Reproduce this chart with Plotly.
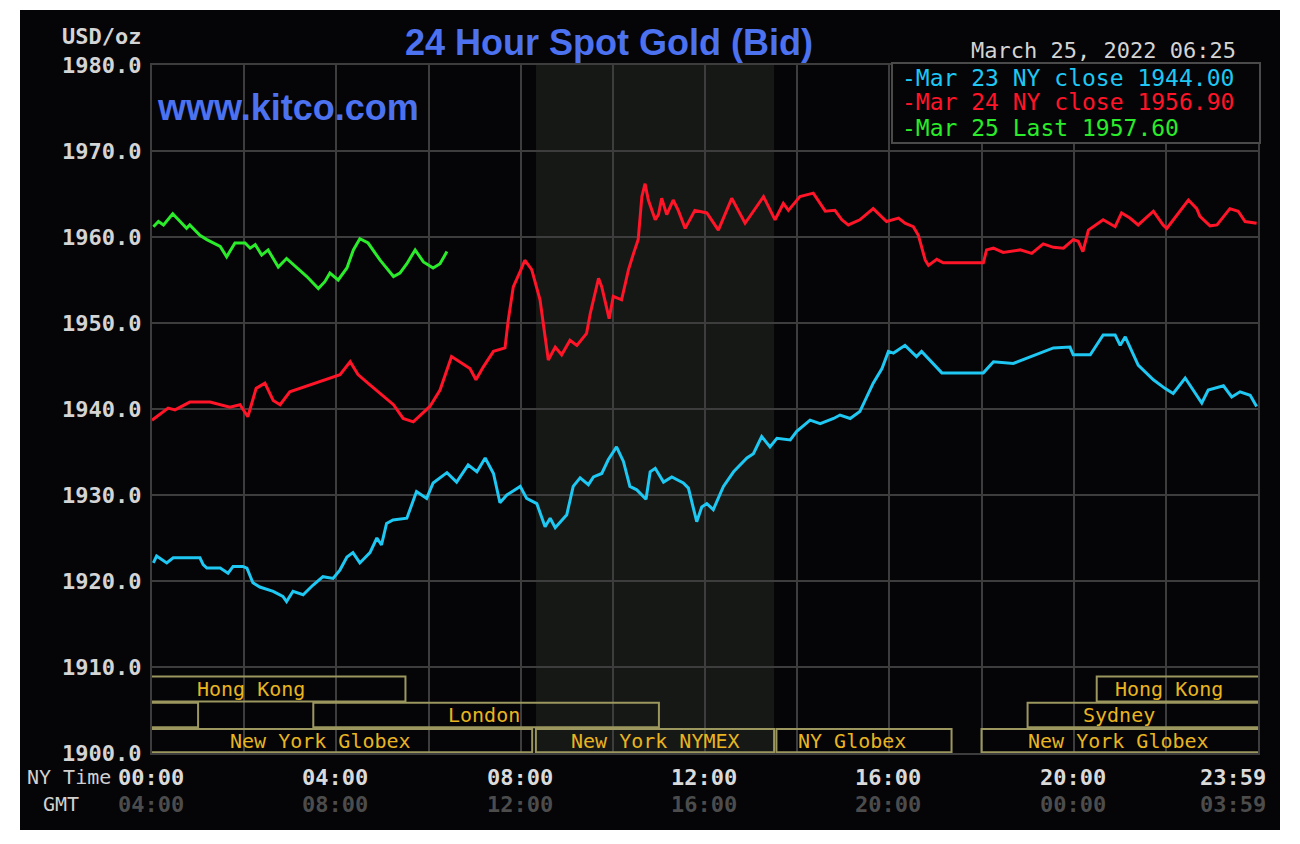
import plotly.graph_objects as go

# ------------------------------------------------------------------ data
# times in NY hours (0 = 00:00, 24 = 24:00), values in USD/oz
mar23_h = [0.03, 0.10, 0.32, 0.46, 1.04, 1.11, 1.19, 1.48, 1.65, 1.76, 1.97, 2.06, 2.19, 2.34,
           2.63, 2.84, 2.92, 3.06, 3.28, 3.49, 3.71, 3.93, 4.08, 4.23, 4.36, 4.51, 4.73, 4.88,
           4.98, 5.09, 5.23, 5.53, 5.74, 5.96, 6.10, 6.40, 6.61, 6.86, 7.05, 7.23, 7.41, 7.55,
           7.70, 7.99, 8.13, 8.35, 8.53, 8.64, 8.75, 9.00, 9.14, 9.29, 9.47, 9.58, 9.76, 9.90,
           10.08, 10.23, 10.37, 10.52, 10.72, 10.81, 10.92, 11.10, 11.28, 11.53, 11.64, 11.82,
           11.93, 12.04, 12.18, 12.40, 12.62, 12.91, 13.05, 13.23, 13.41, 13.56, 13.85, 13.99,
           14.28, 14.50, 14.79, 14.93, 15.15, 15.36, 15.65, 15.84, 15.98, 16.09, 16.34, 16.59,
           16.70, 16.92, 17.14, 18.04, 18.26, 18.69, 18.98, 19.27, 19.56, 19.92, 19.99, 20.36,
           20.64, 20.90, 21.01, 21.12, 21.40, 21.73, 21.98, 22.16, 22.42, 22.78, 22.92, 23.25,
           23.43, 23.61, 23.83, 23.97]
mar23_v = [1922.1, 1922.9, 1922.1, 1922.7, 1922.7, 1921.9, 1921.5, 1921.5, 1920.9, 1921.7,
           1921.7, 1921.5, 1919.8, 1919.3, 1918.8, 1918.2, 1917.6, 1918.8, 1918.4, 1919.5,
           1920.5, 1920.3, 1921.3, 1922.8, 1923.3, 1922.1, 1923.3, 1925.0, 1924.2, 1926.7,
           1927.1, 1927.3, 1930.4, 1929.6, 1931.4, 1932.6, 1931.5, 1933.5, 1932.7, 1934.3,
           1932.5, 1929.1, 1930.0, 1931.0, 1929.6, 1929.0, 1926.3, 1927.3, 1926.2, 1927.7,
           1931.0, 1932.0, 1931.2, 1932.1, 1932.5, 1934.1, 1935.6, 1933.9, 1931.0, 1930.6,
           1929.5, 1932.7, 1933.1, 1931.5, 1932.1, 1931.4, 1930.8, 1926.9, 1928.6, 1929.0,
           1928.3, 1931.0, 1932.7, 1934.3, 1934.8, 1936.8, 1935.6, 1936.6, 1936.4, 1937.4,
           1938.7, 1938.3, 1938.9, 1939.3, 1938.9, 1939.7, 1943.0, 1944.7, 1946.7, 1946.5,
           1947.4, 1946.1, 1946.7, 1945.5, 1944.2, 1944.2, 1945.5, 1945.3, 1945.9, 1946.5,
           1947.1, 1947.2, 1946.3, 1946.3, 1948.6, 1948.6, 1947.4, 1948.4, 1945.1, 1943.4,
           1942.4, 1941.8, 1943.6, 1940.7, 1942.2, 1942.7, 1941.4, 1942.0, 1941.6, 1940.3]

mar24_h = [0.00, 0.13, 0.35, 0.50, 0.82, 1.26, 1.69, 1.91, 2.08, 2.26, 2.45, 2.63, 2.78, 2.99,
           3.43, 3.75, 4.08, 4.30, 4.47, 4.73, 4.95, 5.24, 5.45, 5.67, 6.03, 6.25, 6.50, 6.68,
           6.90, 7.03, 7.19, 7.41, 7.66, 7.73, 7.84, 7.99, 8.09, 8.24, 8.42, 8.53, 8.60, 8.75,
           8.89, 9.07, 9.22, 9.43, 9.51, 9.69, 9.76, 9.92, 10.01, 10.19, 10.34, 10.45, 10.55,
           10.63, 10.70, 10.77, 10.92, 10.99, 11.06, 11.17, 11.31, 11.42, 11.57, 11.78, 12.04,
           12.29, 12.58, 12.87, 13.27, 13.52, 13.70, 13.81, 14.06, 14.35, 14.61, 14.82, 14.97,
           15.11, 15.36, 15.65, 15.94, 16.20, 16.34, 16.52, 16.63, 16.78, 16.85, 17.03, 17.17,
           18.04, 18.11, 18.26, 18.47, 18.84, 19.09, 19.34, 19.56, 19.78, 19.99, 20.10, 20.20,
           20.32, 20.64, 20.90, 21.04, 21.22, 21.40, 21.73, 21.94, 22.02, 22.49, 22.67, 22.74,
           22.96, 23.11, 23.39, 23.57, 23.72, 23.97]
mar24_v = [1938.7, 1939.2, 1940.1, 1939.9, 1940.8, 1940.8, 1940.2, 1940.5, 1939.1, 1942.4,
           1943.0, 1941.0, 1940.5, 1942.0, 1942.8, 1943.4, 1944.0, 1945.5, 1944.0, 1942.8,
           1941.8, 1940.5, 1938.9, 1938.5, 1940.3, 1942.2, 1946.1, 1945.5, 1944.7, 1943.4,
           1944.9, 1946.7, 1947.1, 1950.3, 1954.2, 1956.0, 1957.3, 1956.2, 1952.7, 1948.4,
           1945.7, 1947.2, 1946.3, 1948.0, 1947.4, 1948.8, 1951.1, 1955.2, 1954.2, 1950.5,
           1953.1, 1952.7, 1956.2, 1958.1, 1959.7, 1964.7, 1966.2, 1964.3, 1962.0, 1962.6,
           1964.5, 1962.6, 1964.3, 1963.1, 1961.0, 1963.1, 1962.8, 1960.8, 1964.5, 1961.6,
           1964.7, 1962.0, 1963.9, 1963.1, 1964.7, 1965.1, 1963.0, 1963.1, 1962.0, 1961.4,
           1962.0, 1963.3, 1961.8, 1962.2, 1961.6, 1961.2, 1960.2, 1957.3, 1956.7, 1957.4,
           1957.0, 1957.0, 1958.5, 1958.7, 1958.2, 1958.5, 1958.1, 1959.2, 1958.8, 1958.7,
           1959.7, 1959.5, 1958.3, 1960.8, 1962.0, 1961.2, 1962.8, 1962.2, 1961.4, 1963.0,
           1961.4, 1961.0, 1964.3, 1963.3, 1962.4, 1961.3, 1961.4, 1963.3, 1963.0, 1961.8,
           1961.6]

mar25_h = [0.03, 0.14, 0.25, 0.45, 0.61, 0.75, 0.82, 1.04, 1.19, 1.48, 1.62, 1.80, 2.02, 2.13,
           2.24, 2.38, 2.52, 2.74, 2.92, 3.14, 3.36, 3.61, 3.75, 3.86, 4.04, 4.23, 4.37, 4.51,
           4.69, 4.95, 5.24, 5.38, 5.53, 5.71, 5.89, 6.10, 6.25, 6.40]
mar25_v = [1961.2, 1961.8, 1961.4, 1962.7, 1961.8, 1961.0, 1961.4, 1960.2, 1959.7, 1958.9,
           1957.7, 1959.3, 1959.3, 1958.7, 1959.1, 1957.9, 1958.5, 1956.5, 1957.5, 1956.4,
           1955.4, 1954.0, 1954.8, 1955.8, 1955.0, 1956.4, 1958.5, 1959.8, 1959.3, 1957.3,
           1955.4, 1955.8, 1956.9, 1958.5, 1957.1, 1956.4, 1956.9, 1958.3]

series_names = ["Mar 23 NY close 1944.00", "Mar 24 NY close 1956.90", "Mar 25 Last 1957.60"]
series_colors = ["#1ec8f2", "#ff1428", "#2aec2a"]

y_ticks = [1900, 1910, 1920, 1930, 1940, 1950, 1960, 1970, 1980]
ny_tick_h = [0, 4, 8, 12, 16, 20, 24]
ny_tick_text = ["00:00", "04:00", "08:00", "12:00", "16:00", "20:00", "23:59"]
gmt_tick_text = ["04:00", "08:00", "12:00", "16:00", "20:00", "00:00", "03:59"]

nymex_start, nymex_end = 8 + 20 / 60, 13.5

# sessions: (start h, end h, row, label, label centre h)
sessions = [
    (0.0, 5.5, 1, "Hong Kong", 2.15),
    (0.0, 1.0, 2, "", None),
    (3.5, 11.0, 2, "London", 7.2),
    (0.0, 8.25, 3, "New York Globex", 3.65),
    (8.33, 13.5, 3, "New York NYMEX", 10.92),
    (13.55, 17.35, 3, "NY Globex", 15.2),
    (18.0, 24.0, 3, "New York Globex", 20.97),
    (19.0, 24.0, 2, "Sydney", 20.99),
    (20.5, 24.0, 1, "Hong Kong", 22.07),
]
row_band = {1: (1906.0, 1908.9), 2: (1903.0, 1905.85), 3: (1900.1, 1902.8)}

# ------------------------------------------------------------------ layout helpers
W, H = 1300, 844
L, R, T, B = 152, 1258, 65, 753


def px(x):
    return (x - L) / (R - L)


def py(y):
    return (B - y) / (B - T)


MONO = "DejaVu Sans Mono"
GRID = "#3d3d3d"

fig = go.Figure()
for hh, vv, nm, col in zip([mar23_h, mar24_h, mar25_h], [mar23_v, mar24_v, mar25_v],
                            series_names, series_colors):
    fig.add_trace(go.Scatter(x=hh, y=vv, mode="lines", name=nm,
                             line=dict(color=col, width=3), showlegend=False,
                             hoverinfo="skip"))

shapes = [
    dict(type="rect", xref="paper", yref="paper", x0=px(20), x1=px(1280), y0=py(830), y1=py(10),
         fillcolor="#050407", line=dict(width=0), layer="below"),
    dict(type="rect", xref="x", yref="y", x0=nymex_start, x1=nymex_end, y0=1900, y1=1980,
         fillcolor="#161816", line=dict(width=0), layer="below"),
    dict(type="rect", xref="paper", yref="paper", x0=px(892), x1=px(1260), y0=py(143), y1=py(63),
         fillcolor="#050407", line=dict(color="#4a4a4a", width=2), layer="above"),
]
BOX = "#9c975f"
for s0, s1, row, lab, lx in sessions:
    y0, y1 = row_band[row]
    if s0 <= 0:
        path = f"M 0,{y1} L {s1},{y1} L {s1},{y0} L 0,{y0}"
    elif s1 >= 24:
        path = f"M 24,{y1} L {s0},{y1} L {s0},{y0} L 24,{y0}"
    else:
        path = f"M {s0},{y0} L {s0},{y1} L {s1},{y1} L {s1},{y0} Z"
    shapes.append(dict(type="path", xref="x", yref="y", path=path,
                       line=dict(color=BOX, width=2), layer="above"))

ann = []
for s0, s1, row, lab, lx in sessions:
    if lab:
        y0, y1 = row_band[row]
        ann.append(dict(x=lx, y=(y0 + y1) / 2, xref="x", yref="y", text=lab, showarrow=False,
                        xanchor="center", yanchor="middle",
                        font=dict(family=MONO, size=20, color="#e8b521")))

# x tick labels (two rows)
for h, t_ny, t_gmt in zip(ny_tick_h, ny_tick_text, gmt_tick_text):
    xa, xs = ("center", -1) if h < 24 else ("right", 10)
    ann.append(dict(x=h, y=py(777), xref="x", yref="paper", text=t_ny, showarrow=False,
                    xanchor=xa, xshift=xs, yanchor="middle",
                    font=dict(family=MONO, size=22, color="#dadada", weight="bold")))
    ann.append(dict(x=h, y=py(804), xref="x", yref="paper", text=t_gmt, showarrow=False,
                    xanchor=xa, xshift=xs, yanchor="middle",
                    font=dict(family=MONO, size=22, color="#4c4c4c", weight="bold")))

ann += [
    dict(x=px(25), y=py(777), xref="paper", yref="paper", text="NY Time", showarrow=False,
         xanchor="left", yanchor="middle", font=dict(family=MONO, size=20, color="#d0d0d0")),
    dict(x=px(41), y=py(804), xref="paper", yref="paper", text="GMT", showarrow=False,
         xanchor="left", yanchor="middle", font=dict(family=MONO, size=20, color="#d0d0d0")),
    dict(x=px(143), y=py(37), xref="paper", yref="paper", text="USD/oz", showarrow=False,
         xanchor="right", yanchor="middle",
         font=dict(family=MONO, size=22, color="#d4d4d4", weight="bold")),
    dict(x=px(609), y=py(42), xref="paper", yref="paper", text="24 Hour Spot Gold (Bid)",
         showarrow=False, xanchor="center", yanchor="middle",
         font=dict(family="Liberation Sans", size=36, color="#4c72f0", weight="bold")),
    dict(x=px(155), y=py(107), xref="paper", yref="paper", text="www.kitco.com",
         showarrow=False, xanchor="left", yanchor="middle",
         font=dict(family="Liberation Sans", size=36, color="#4c72f0", weight="bold")),
    dict(x=px(1238), y=py(50), xref="paper", yref="paper", text="March 25, 2022 06:25",
         showarrow=False, xanchor="right", yanchor="middle",
         font=dict(family=MONO, size=22, color="#d4d4d4")),
]
for i, (nm, col) in enumerate(zip(series_names, series_colors)):
    ann.append(dict(x=px(900), y=py([78, 102, 128][i]), xref="paper", yref="paper",
                    text="-" + nm, showarrow=False, xanchor="left", yanchor="middle",
                    font=dict(family=MONO, size=23, color=col)))

fig.update_layout(
    width=W, height=H, autosize=False,
    margin=dict(l=L, r=W - R, t=T, b=H - B, pad=0),
    paper_bgcolor="#ffffff", plot_bgcolor="rgba(0,0,0,0)",
    shapes=shapes, annotations=ann, showlegend=False,
    xaxis=dict(range=[0, 24], tickvals=list(range(0, 25, 2)), showticklabels=False,
               showgrid=True, gridcolor=GRID, gridwidth=2, zeroline=False,
               showline=True, mirror=True, linecolor=GRID, linewidth=2, ticks=""),
    yaxis=dict(range=[1900, 1980], tickvals=y_ticks, ticktext=[f"{v:.1f}" for v in y_ticks],
               showgrid=True, gridcolor=GRID, gridwidth=2, zeroline=False,
               showline=True, mirror=True, linecolor=GRID, linewidth=2, ticks="",
               ticklabelstandoff=4,
               tickfont=dict(family=MONO, size=22, color="#d4d4d4", weight="bold")),
)

fig.write_html("out.html")
